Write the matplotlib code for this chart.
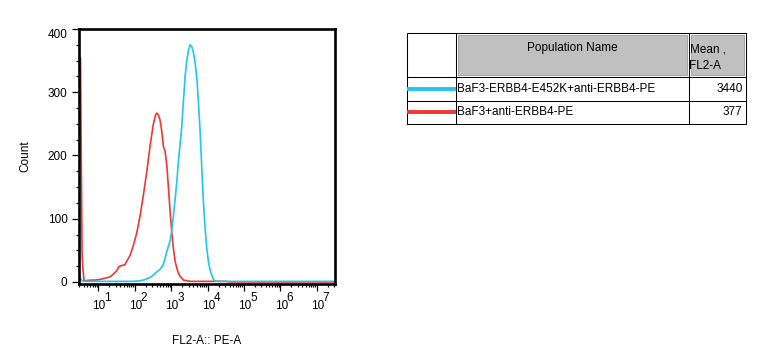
import matplotlib
matplotlib.use("Agg")
import matplotlib.pyplot as plt
from matplotlib.ticker import FixedLocator, LogLocator, MultipleLocator, NullFormatter
from matplotlib.patches import Rectangle

plt.rcParams["font.family"] = ["Liberation Sans", "DejaVu Sans"]

# histogram: FL2-A channel value -> event count
red_x = [3.24, 3.41, 3.56, 3.72, 4.04, 6.3, 8.1, 11.1, 15.3, 20.9, 25.3, 31.2,
         36.3, 42.8, 53.1, 60.3, 74.3, 91.5, 114, 140, 172, 214, 263, 324,
         373, 402, 445, 495, 552, 611, 680, 757, 837, 933, 1038, 1148, 1279,
         1425, 1577, 1757, 1955, 2163, 2684, 3306, 30270, 41460, 3e7]
red_count = [354, 182, 48, 25, 2, 3, 3, 4, 6, 8, 12, 17,
             24, 26, 27, 33, 42, 58, 78, 105, 137, 175, 215, 250,
             264, 267, 264, 256, 238, 214, 207, 185, 150, 112, 78, 53, 33,
             22, 14, 9, 6, 3, 2, 1, 1, 0, 0]

blue_x = [3.24, 3.5, 3.94, 91.5, 114, 140, 172, 214, 263, 324, 402, 495,
          611, 757, 933, 1038, 1148, 1279, 1425, 1577, 1757, 1955, 2163, 2409,
          2684, 2970, 3306, 3680, 4074, 4538, 5049, 5589, 6222, 6929, 7669,
          8539, 9505, 10520, 11720, 13040, 14430, 16070, 22030, 3e7]
blue_count = [6, 2, 1, 1, 1.5, 2, 3, 5, 7, 11, 16, 20,
              28, 48, 65, 82, 105, 130, 158, 191, 218, 247, 285, 325,
              350, 366, 375, 372, 363, 347, 322, 285, 238, 180, 127,
              85, 53, 32, 19, 11, 4, 1.5, 1, 1]

populations = ["BaF3-ERBB4-E452K+anti-ERBB4-PE", "BaF3+anti-ERBB4-PE"]
means = ["3440", "377"]
colors = ["#1ec6f0", "#f23535"]
decades = [1, 2, 3, 4, 5, 6, 7]
count_ticks = [0, 100, 200, 300, 400]

W, H = 759, 362
fig = plt.figure(figsize=(W / 100, H / 100), dpi=100)

# ---- histogram panel
ax = fig.add_axes([78.7 / W, 1 - 284.2 / H, 256 / W, 255.2 / H])
ax.plot(red_x, red_count, color=colors[1], lw=1.2)
ax.plot(blue_x, blue_count, color=colors[0], lw=1.2)
ax.set_xscale("log")
ax.set_xlim(10 ** 0.46, 10 ** 7.49)
ax.set_ylim(-3.5, 400)

for s in ax.spines.values():
    s.set_linewidth(1.9)

ax.xaxis.set_major_locator(FixedLocator([10 ** d for d in decades]))
ax.xaxis.set_minor_locator(LogLocator(base=10, subs=range(2, 10), numticks=20))
ax.xaxis.set_major_formatter(NullFormatter())
ax.xaxis.set_minor_formatter(NullFormatter())
ax.set_yticks(count_ticks)
ax.yaxis.set_minor_locator(MultipleLocator(25))
ax.tick_params(which="major", length=5, width=0.9, direction="out", labelsize=8.5, pad=3)
ax.tick_params(which="minor", length=2.5, width=0.9, direction="out")
ax.yaxis.get_major_ticks()[-1].label1.set_verticalalignment("top")

for d in decades:
    ax.annotate("10", xy=(10 ** d, 0), xycoords=("data", "axes fraction"),
                xytext=(0.8, -22), textcoords="offset pixels",
                ha="center", va="center", fontsize=8.5)
    ax.annotate(str(d), xy=(10 ** d, 0), xycoords=("data", "axes fraction"),
                xytext=(6, -14), textcoords="offset pixels",
                ha="left", va="center", fontsize=8.5)

ax.set_ylabel("Count", fontsize=8.5)
ax.yaxis.set_label_coords((25 - 78.7) / 256, 0.5)
ax.yaxis.label.set_verticalalignment("center")
ax.set_xlabel("FL2-A:: PE-A", fontsize=8.5)
ax.xaxis.set_label_coords(0.5, (284.2 - 341) / 255.2)
ax.xaxis.label.set_verticalalignment("center")

# ---- population table (pixel coordinates)
tab = fig.add_axes([0, 0, 1, 1])
tab.set_xlim(0, W)
tab.set_ylim(H, 0)
tab.axis("off")

x0, x1, x2, x3 = 406.5, 455.5, 688.5, 745.5
y0, y1, y2, y3 = 32.5, 77, 100.5, 123.5
lw = 0.75

tab.add_patch(Rectangle((x1 + 2, y0 + 2), x2 - x1 - 4, y1 - y0 - 4,
                        facecolor="#c0c0c0", edgecolor="#a4a4a4", lw=0.7))
tab.add_patch(Rectangle((x2 + 2, y0 + 2), x3 - x2 - 4, y1 - y0 - 4,
                        facecolor="#c0c0c0", edgecolor="#a4a4a4", lw=0.7))
tab.add_patch(Rectangle((x0, y0), x3 - x0, y3 - y0, fill=False, edgecolor="black", lw=lw))
for xv in (x1, x2):
    tab.plot([xv, xv], [y0, y3], color="black", lw=lw)
for yv in (y1, y2):
    tab.plot([x0, x3], [yv, yv], color="black", lw=lw)

tab.text((x1 + x2) / 2, 47.5, "Population Name", ha="center", va="center", fontsize=8.5)
tab.text(x2 + 1, 49, "Mean ,", ha="left", va="center", fontsize=8.5)
tab.text(x2 + 1, 66, "FL2-A", ha="left", va="center", fontsize=8.5)

row_y = [88.5, 112]
for ry, name, mean, c in zip(row_y, populations, means, colors):
    tab.plot([x0, x1], [ry, ry], color=c, lw=2.8, solid_capstyle="butt")
    tab.text(x1 + 2, ry, name, ha="left", va="center", fontsize=8.5)
    tab.text(x3 - 3, ry, mean, ha="right", va="center", fontsize=8.5)

fig.savefig("out.png", dpi=100)
